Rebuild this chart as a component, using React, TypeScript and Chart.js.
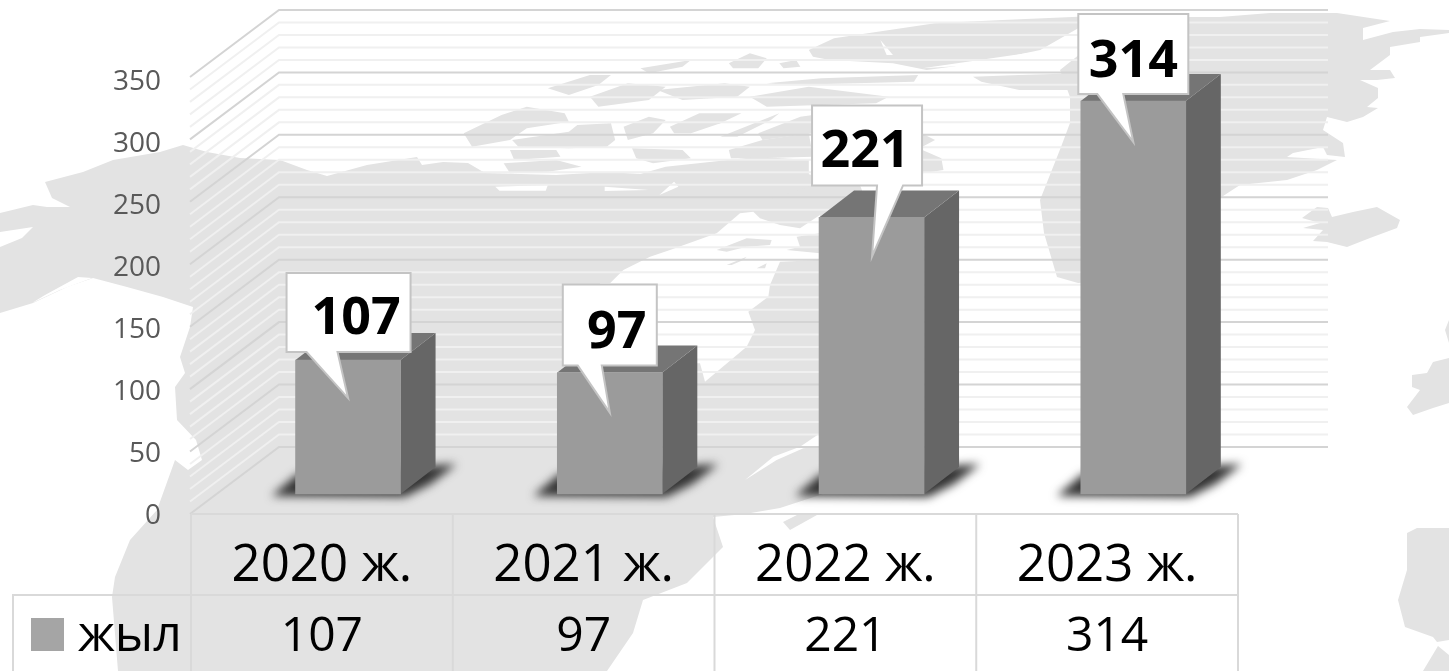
import React, { useEffect, useRef } from "react";
import { Chart, registerables } from "chart.js";

Chart.register(...registerables);

const categories = ["2020 ж.", "2021 ж.", "2022 ж.", "2023 ж."];
const seriesName = "жыл";
const seriesValues = [107, 97, 221, 314];
const majorStep = 50;
const wallStep = 10;
const axisMax = 350;

// callout placement relative to each bar's centre and top
const calloutBox = [
  { l: -61.5, r: 62.5, t: -87, b: -8, tl: -41.5, tr: -10.5, tipX: 0, tipY: 38, tx: 8, ty: -26 },
  { l: -47, r: 47, t: -88, b: -7, tl: -32, tr: -8, tipX: 0, tipY: 40, tx: 7, ty: -25 },
  { l: -59.5, r: 50.5, t: -112, b: -32, tl: 5.5, tr: 31.5, tipX: 0.5, tipY: 39, tx: -6.5, ty: -50 },
  { l: -55, r: 55, t: -87, b: -7, tl: -36, tr: -10, tipX: 0, tipY: 41, tx: 0, ty: -24 },
];

const FONT = '"Open Sans", "Noto Sans", sans-serif';
const LAND = "#e3e3e3";
const DEPTH_X = 35;
const DEPTH_Y = 27;

type P = number[];
const z8 = (a: P[]): P[] => a.map(([x, y]) => [430 + x / 2.376, y / 3]);
const z12 = (a: P[]): P[] => a.map(([x, y]) => [600 + x / 3, 190 + y / 3]);

const landShapes: P[][] = [
  [[0,213],[33,205],[47,207],[70,207],[52,198],[45,182],[83,172],[113,160],[160,152],[183,145],[207,152],[240,158],[280,160],[307,170],[327,176],[367,165],[417,157],[422,165],[443,162],[468,163],[485,173],[556,175],[607,172],[657,175],[691,165],[725,173],[792,170],[812,175],[860,185],[880,240],[880,480],[820,495],[780,508],[745,514],[713,517],[723,547],[687,583],[643,600],[633,633],[607,671],[118,671],[112,597],[115,577],[130,540],[157,510],[175,460],[188,470],[202,460],[196,440],[177,420],[175,387],[185,373],[180,357],[190,327],[193,307],[163,297],[127,287],[93,278],[67,287],[33,303],[0,313]],
  // Greenland
  [[1078,17],[1220,17],[1270,13],[1337,13],[1390,21],[1363,28],[1363,40],[1393,32],[1420,29],[1449,30],[1449,33],[1420,37],[1420,42],[1390,47],[1390,55],[1370,70],[1390,70],[1395,78],[1377,80],[1360,80],[1378,88],[1378,98],[1367,107],[1378,108],[1363,117],[1347,122],[1327,117],[1323,130],[1343,143],[1345,157],[1327,155],[1323,147],[1293,153],[1287,157],[1337,160],[1317,170],[1287,180],[1240,185],[1220,198],[1190,240],[1130,280],[1078,283],[1057,277],[1044,233],[1040,200],[1061,147],[1070,123],[1070,97],[1060,70],[1085,50],[1078,30]],
  // Iceland
  [[1302,218],[1317,207],[1328,208],[1332,217],[1353,212],[1377,207],[1400,220],[1397,228],[1370,238],[1347,247],[1327,242],[1313,241],[1323,230],[1303,228],[1320,223]],
  // Ireland and Britain
  [[1449,358],[1433,362],[1427,373],[1412,375],[1412,387],[1420,390],[1407,407],[1413,415],[1433,408],[1449,403]],
  [[1449,320],[1445,330],[1449,343]],
  // Iberia and Africa
  [[1407,533],[1417,528],[1449,528],[1449,640],[1437,642],[1433,637],[1405,627],[1398,600],[1407,570]],
  [[1423,671],[1438,646],[1449,655],[1449,671]],
  // small blob south of the gulf
  [[783,522],[797,515],[817,515],[790,530]],
  // Arctic islands
  ...[
    [[80,400],[170,345],[230,320],[320,340],[330,365],[230,385],[190,420],[100,440]],
    [[195,420],[330,395],[350,375],[430,370],[440,420],[420,440],[330,445],[210,440]],
    [[175,490],[300,480],[360,500],[280,515],[190,520]],
    [[190,450],[300,450],[310,470],[200,480]],
    [[480,445],[600,450],[620,475],[530,490],[490,475]],
    [[460,380],[520,350],[560,360],[530,400],[470,420]],
    [[570,380],[640,340],[740,340],[690,370],[620,400],[580,400]],
    [[690,410],[830,340],[810,360],[730,410]],
    [[710,450],[790,420],[900,400],[910,470],[780,475],[715,475]],
    [[780,400],[880,350],[910,345],[910,400],[790,420]],
    [[280,265],[380,225],[430,225],[400,255],[330,285]],
    [[380,290],[470,250],[560,260],[520,300],[400,320]],
    [[540,270],[700,250],[760,260],[730,290],[600,300]],
    [[760,290],[900,260],[1090,290],[1060,310],[800,320]],
    [[500,205],[620,180],[600,200],[520,220]],
    [[710,190],[760,160],[800,175],[780,205],[720,205]],
    [[830,190],[870,180],[880,200],[840,205]],
    [[800,250],[930,235],[1160,225],[1150,245],[850,255]],
    [[900,150],[960,115],[1040,100],[1200,70],[1360,60],[1540,50],[1540,85],[1450,150],[1300,190],[1180,210],[1100,190],[950,180],[910,170]],
    [[1290,230],[1400,225],[1540,220],[1540,270],[1400,270],[1310,245]],
    [[1170,450],[1215,475],[1220,510],[1170,520]],
    [[1168,400],[1200,420],[1170,440]],
    [[450,540],[560,500],[780,470],[900,480],[900,560],[800,600],[450,600]],
  ].map(z8),
];

const waterShapes: P[][] = [
  [[0,232],[33,227],[22,238],[0,247]],
  [[32,303],[45,295],[78,277],[92,278],[60,290]],
  z12([[420,70],[350,130],[210,180],[150,200],[70,240],[30,280],[0,280],[0,520],[300,520],[315,575],[440,470],[465,420],[445,365],[505,320],[510,285],[540,215],[660,210],[660,190],[560,180],[600,170],[590,140],[660,130],[660,75],[600,115],[540,105],[480,85],[460,65]]),
  z12([[435,870],[520,800],[600,770],[660,730],[660,770],[610,775],[530,810]]),
  z8([[155,560],[280,555],[275,572],[165,572]]),
  z8([[415,560],[520,570],[415,573]]),
  z8([[545,585],[580,545],[590,560]]),
  z8([[1170,205],[1470,150],[1300,195]]),
  z8([[1070,120],[1100,165],[1085,165]]),
];

const landOverWater: P[][] = [
  z12([[350,180],[440,145],[515,150],[510,165],[440,170],[380,185]]),
  z12([[380,225],[440,200],[430,210],[395,225]]),
  z12([[470,235],[500,220],[495,235]]),
];

function fillPoly(ctx: CanvasRenderingContext2D, pts: P[], color: string) {
  ctx.beginPath();
  pts.forEach(([x, y], i) => (i ? ctx.lineTo(x, y) : ctx.moveTo(x, y)));
  ctx.closePath();
  ctx.fillStyle = color;
  ctx.fill();
}

const backdropPlugin = {
  id: "backdrop",
  beforeDraw(chart: any) {
    const { ctx, chartArea, scales } = chart;
    ctx.save();
    landShapes.forEach((s) => fillPoly(ctx, s, LAND));
    waterShapes.forEach((s) => fillPoly(ctx, s, "#ffffff"));
    landOverWater.forEach((s) => fillPoly(ctx, s, LAND));

    // back and side walls
    const wall = scales.yWall;
    const backLeft = 279;
    const backRight = 1328;
    const wallDrop = 67;
    ctx.lineCap = "butt";
    const values: number[] = [];
    for (let v = 0; v <= axisMax; v += wallStep) values.push(v);
    values.filter((v) => v % majorStep !== 0).concat(values.filter((v) => v % majorStep === 0)).forEach((v) => {
      const y = wall.getPixelForValue(v);
      ctx.beginPath();
      ctx.moveTo(chartArea.left - 1, y + wallDrop);
      ctx.lineTo(backLeft, y);
      ctx.lineTo(backRight, y);
      ctx.strokeStyle = v % majorStep === 0 ? "#d4d4d4" : "#f0f0f0";
      ctx.lineWidth = 2;
      ctx.stroke();
    });

    // data table grid
    const x = scales.x;
    const cell = (chartArea.right - chartArea.left) / categories.length;
    const rowY = 595;
    const H = chart.height;
    ctx.strokeStyle = "#d9d9d9";
    ctx.lineWidth = 2;
    ctx.beginPath();
    ctx.moveTo(chartArea.left, chartArea.bottom);
    ctx.lineTo(chartArea.right, chartArea.bottom);
    ctx.moveTo(13, H);
    ctx.lineTo(13, rowY);
    ctx.lineTo(chartArea.right, rowY);
    for (let i = 0; i <= categories.length; i++) {
      const px = x.left + i * cell;
      ctx.moveTo(px, chartArea.bottom);
      ctx.lineTo(px, H);
    }
    ctx.stroke();

    // data table row
    ctx.fillStyle = "#000000";
    ctx.font = `48px ${FONT}`;
    ctx.textAlign = "center";
    ctx.textBaseline = "alphabetic";
    seriesValues.forEach((v, i) => ctx.fillText(String(v), x.getPixelForTick(i), 651));
    ctx.textAlign = "left";
    ctx.font = `50px ${FONT}`;
    ctx.fillText(seriesName, 78, 651);
    ctx.fillStyle = "#a5a5a5";
    ctx.fillRect(31, 618, 33, 33);
    ctx.restore();
  },
  beforeDatasetsDraw(chart: any) {
    const { ctx } = chart;
    const meta = chart.getDatasetMeta(0);
    ctx.save();
    meta.data.forEach((bar: any) => {
      const half = bar.width / 2;
      const L = bar.x - half;
      const R = bar.x + half;
      const B = bar.base;
      const T = bar.y;
      // floor shadow
      ctx.save();
      ctx.filter = "blur(5px)";
      fillPoly(ctx, [[L - 24, B + 2], [L + 2, B - 20], [R + 56, B - 30], [R + 30, B - 10], [R + 4, B + 3]], "#333333");
      ctx.restore();
      // side and top faces
      fillPoly(ctx, [[R, T], [R + DEPTH_X, T - DEPTH_Y], [R + DEPTH_X, B - DEPTH_Y], [R, B]], "#666666");
      fillPoly(ctx, [[L, T], [L + DEPTH_X, T - DEPTH_Y], [R + DEPTH_X, T - DEPTH_Y], [R, T]], "#757575");
    });
    ctx.restore();
  },
  afterDatasetsDraw(chart: any) {
    const { ctx } = chart;
    const meta = chart.getDatasetMeta(0);
    ctx.save();
    meta.data.forEach((bar: any, i: number) => {
      const c = calloutBox[i];
      const X = bar.x;
      const Y = bar.y;
      ctx.beginPath();
      ctx.moveTo(X + c.l, Y + c.t);
      ctx.lineTo(X + c.r, Y + c.t);
      ctx.lineTo(X + c.r, Y + c.b);
      ctx.lineTo(X + c.tr, Y + c.b);
      ctx.lineTo(X + c.tipX, Y + c.tipY);
      ctx.lineTo(X + c.tl, Y + c.b);
      ctx.lineTo(X + c.l, Y + c.b);
      ctx.closePath();
      ctx.fillStyle = "#ffffff";
      ctx.fill();
      ctx.strokeStyle = "#c4c4c4";
      ctx.lineWidth = 2;
      ctx.lineJoin = "miter";
      ctx.stroke();
      ctx.fillStyle = "#000000";
      ctx.font = `700 52px ${FONT}`;
      ctx.textAlign = "center";
      ctx.textBaseline = "alphabetic";
      ctx.fillText(String(seriesValues[i]), X + c.tx, Y + c.ty);
    });
    ctx.restore();
  },
};

export default function App() {
  const ref = useRef<HTMLCanvasElement | null>(null);
  useEffect(() => {
    const chart = new Chart(ref.current as HTMLCanvasElement, {
      type: "bar",
      data: {
        labels: categories,
        datasets: [
          {
            label: seriesName,
            data: seriesValues.map((y, x) => ({ x, y })),
            xAxisID: "xBar",
            yAxisID: "yBar",
            backgroundColor: "#9b9b9b",
            barThickness: 105,
            borderWidth: 0,
          } as any,
        ],
      },
      options: {
        animation: false,
        responsive: false,
        layout: { padding: { top: 80, right: 211, left: 0, bottom: 0 } },
        plugins: { legend: { display: false }, tooltip: { enabled: false } },
        scales: {
          x: {
            type: "category",
            offset: true,
            grid: { display: false },
            border: { display: false },
            ticks: { color: "#000000", font: { family: FONT, size: 51 }, padding: 14, maxRotation: 0, autoSkip: false },
            afterFit: (s: any) => { s.height = 157; },
          },
          y: {
            type: "linear",
            min: 0,
            max: axisMax,
            grid: { display: false },
            border: { display: false },
            ticks: { stepSize: majorStep, color: "#595959", font: { family: FONT, size: 28 }, padding: 22, labelOffset: 2 },
            afterFit: (s: any) => { s.width = 191; },
          },
          xBar: { type: "linear", display: false, offset: false, min: -0.6, max: 3.4 },
          yBar: { type: "linear", display: false, min: -15.98, max: 330.8 },
          yWall: { type: "linear", display: false, min: -53.66, max: 293.9 },
        },
      } as any,
      plugins: [backdropPlugin as any],
    });
    return () => chart.destroy();
  }, []);
  return (
    <div style={{ position: "absolute", left: 0, top: 0, width: 1449, height: 671, background: "#fff", overflow: "hidden" }}>
      <canvas ref={ref} width={1449} height={671} style={{ display: "block" }} />
    </div>
  );
}
